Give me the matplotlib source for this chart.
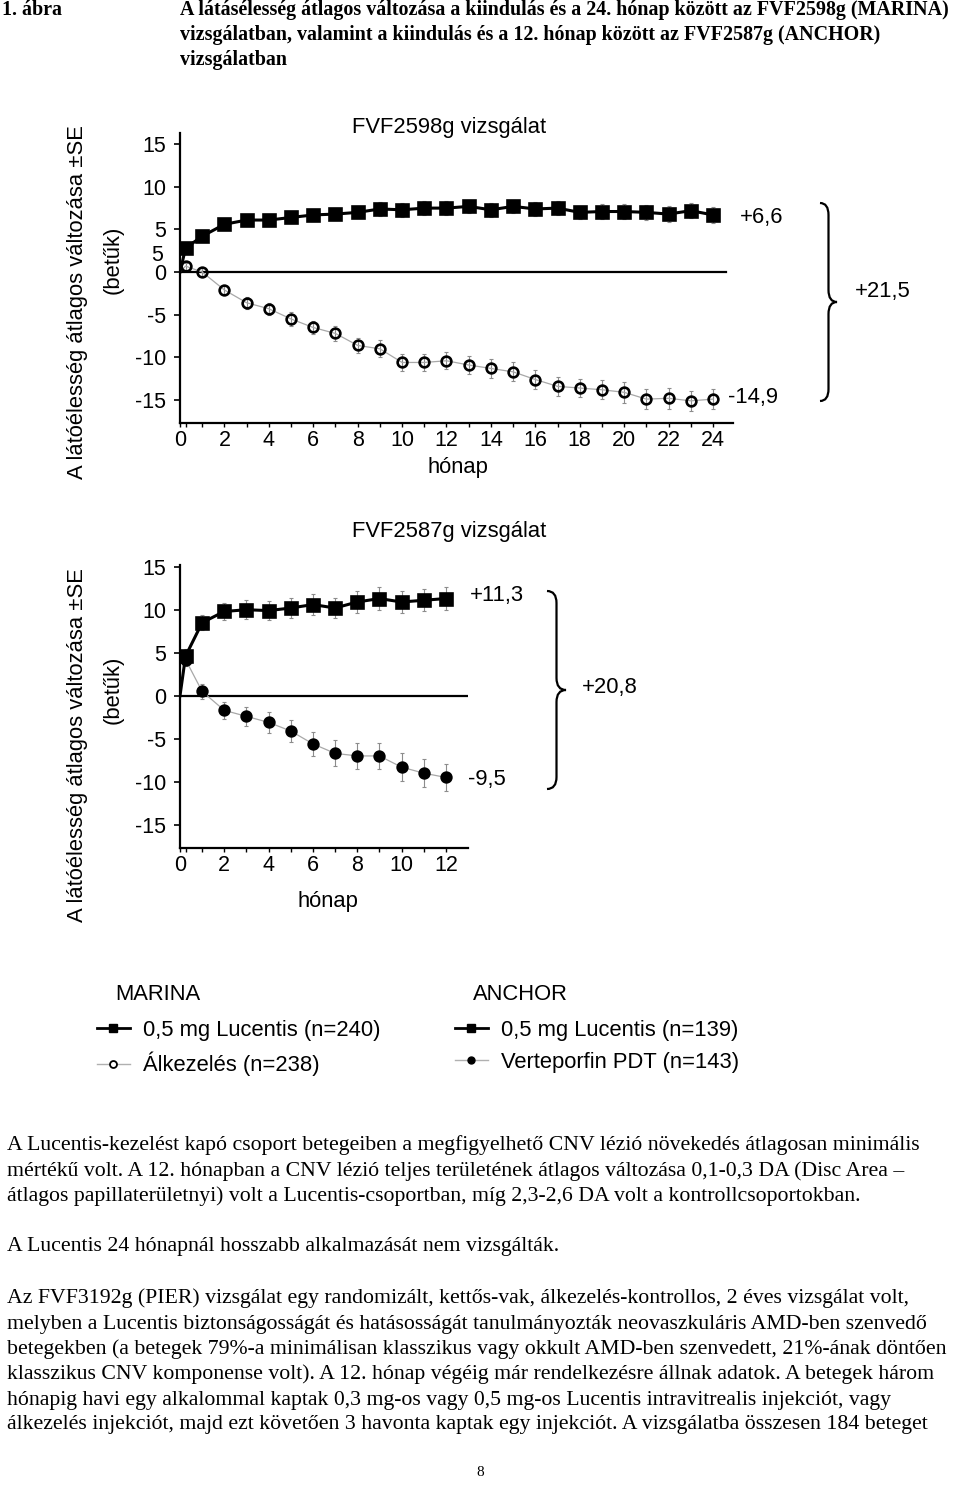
import numpy as np
import matplotlib.pyplot as plt
from matplotlib.path import Path
from matplotlib.patches import PathPatch
from matplotlib.lines import Line2D

plt.rcParams['font.family'] = ['Liberation Sans', 'DejaVu Sans']
plt.rcParams['axes.unicode_minus'] = False

# MARINA (FVF2598g) - atlagos valtozas, betuk
marina_months = [0, 0.25] + list(range(1, 25))
marina_lucentis = [0, 2.8, 4.2, 5.6, 6.1, 6.1, 6.4, 6.7, 6.8, 7.0, 7.4, 7.3, 7.5, 7.5,
                   7.7, 7.3, 7.7, 7.4, 7.5, 7.0, 7.1, 7.1, 7.0, 6.8, 7.2, 6.7]
marina_lucentis_se = [0, 0.5, 0.6, 0.6, 0.6, 0.6, 0.7, 0.7, 0.7, 0.7, 0.8, 0.8, 0.8, 0.8,
                      0.8, 0.8, 0.8, 0.8, 0.8, 0.8, 0.9, 0.9, 0.9, 0.9, 0.9, 0.9]
marina_sham = [0, 0.7, 0.0, -2.1, -3.6, -4.3, -5.5, -6.5, -7.2, -8.6, -9.0, -10.6, -10.6, -10.4,
               -10.9, -11.3, -11.7, -12.6, -13.4, -13.6, -13.8, -14.1, -14.9, -14.8, -15.1, -14.9]
marina_sham_se = [0, 0.4, 0.5, 0.6, 0.7, 0.7, 0.8, 0.8, 0.9, 0.9, 1.0, 1.0, 1.0, 1.0,
                  1.0, 1.1, 1.1, 1.1, 1.1, 1.1, 1.1, 1.2, 1.2, 1.2, 1.2, 1.2]

# ANCHOR (FVF2587g)
anchor_months = [0, 0.25] + list(range(1, 13))
anchor_lucentis = [0, 4.6, 8.5, 9.8, 10.0, 9.9, 10.2, 10.6, 10.2, 10.9, 11.3, 10.9, 11.1, 11.3]
anchor_lucentis_se = [0, 0.8, 0.9, 1.0, 1.1, 1.1, 1.2, 1.2, 1.2, 1.3, 1.3, 1.3, 1.3, 1.3]
anchor_pdt = [0, 4.2, 0.5, -1.7, -2.4, -3.1, -4.1, -5.6, -6.7, -7.0, -7.0, -8.3, -9.0, -9.5]
anchor_pdt_se = [0, 0.8, 0.9, 1.0, 1.1, 1.2, 1.3, 1.4, 1.5, 1.5, 1.5, 1.6, 1.6, 1.6]

yticks = [15, 10, 5, 0, -5, -10, -15]

fig = plt.figure(figsize=(9.6, 14.9), dpi=100)

def setup(ax, xmax, ymin, ymax, xlabels, zero_end):
    ax.set_xlim(0, xmax)
    ax.set_ylim(ymin, ymax)
    for s in ['top', 'right']:
        ax.spines[s].set_visible(False)
    for s in ['left', 'bottom']:
        ax.spines[s].set_linewidth(1.6)
    ax.set_yticks(yticks)
    ax.set_xticks(xlabels)
    ax.set_xticks([m for m in range(1, int(xlabels[-1]) + 1, 2)] + [0.25], minor=True)
    ax.tick_params(axis='y', direction='out', length=4, width=1.2, labelsize=15.5, pad=6)
    ax.tick_params(axis='x', which='both', direction='out', length=3, width=1.0,
                   labelsize=15.5, pad=2)
    ax.axhline(0, xmax=zero_end, color='black', lw=1.6)

def series(ax, x, y, se, fmt, lw, lc, ms, mfc):
    ax.errorbar(x, y, yerr=se, fmt='none', ecolor='#8c8c8c', elinewidth=0.8,
                capsize=1.5, capthick=0.8, errorevery=(1, 1), zorder=2)
    ax.plot(x, y, color=lc, lw=lw, zorder=3)
    ax.plot(x[1:], y[1:], linestyle='none', marker=fmt, ms=ms, mfc=mfc,
            mec='black', mew=1.9, zorder=4)

# felso abra: MARINA
ax1 = fig.add_axes([0.1875, 0.7161, 0.5760, 0.1946])
setup(ax1, 24.9, -17.7, 16.3, list(range(0, 25, 2)), 0.988)
series(ax1, marina_months, marina_sham, marina_sham_se, 'o', 0.9, '#a8a8a8', 7, 'none')
series(ax1, marina_months, marina_lucentis, marina_lucentis_se, 's', 2.2, 'black', 8.5, 'black')
ax1.text(-0.75, 2, '5', ha='right', va='center', fontsize=15.5)

# also abra: ANCHOR
ax2 = fig.add_axes([0.1875, 0.4309, 0.3000, 0.1899])
setup(ax2, 13.0, -17.7, 15.2, list(range(0, 13, 2)), 1.0)
series(ax2, anchor_months, anchor_pdt, anchor_pdt_se, 'o', 0.9, '#a8a8a8', 7, 'black')
series(ax2, anchor_months, anchor_lucentis, anchor_lucentis_se, 's', 2.2, 'black', 8.5, 'black')

# overlay in pixel coordinates for texts and braces
ov = fig.add_axes([0, 0, 1, 1])
ov.set_xlim(0, 960)
ov.set_ylim(1490, 0)
ov.axis('off')
ov.patch.set_alpha(0)

def brace(x, yt, yb, ym, w, r):
    xm = x + w / 2
    verts = [(x, yt), (xm, yt), (xm, yt + r), (xm, ym - r), (xm, ym), (x + w, ym),
             (xm, ym), (xm, ym + r), (xm, yb - r), (xm, yb), (x, yb)]
    codes = [Path.MOVETO, Path.CURVE3, Path.CURVE3, Path.LINETO, Path.CURVE3, Path.CURVE3,
             Path.CURVE3, Path.CURVE3, Path.LINETO, Path.CURVE3, Path.CURVE3]
    ov.add_patch(PathPatch(Path(verts, codes), fill=False, lw=1.6, color='black'))

brace(820, 203, 401, 302, 17, 12)
brace(547, 591, 789, 690, 19, 12)

fs = 15.8
ov.text(449, 128, 'FVF2598g vizsgálat', ha='center', va='center', fontsize=fs)
ov.text(458, 467, 'hónap', ha='center', va='center', fontsize=fs)
ov.text(740, 217, '+6,6', ha='left', va='center', fontsize=fs)
ov.text(728, 397, '-14,9', ha='left', va='center', fontsize=fs)
ov.text(855, 291, '+21,5', ha='left', va='center', fontsize=fs)
ov.text(78, 302, 'A látóélesség átlagos változása ±SE', rotation=90, ha='center', va='center', fontsize=fs)
ov.text(113, 260, '(betűk)', rotation=90, ha='center', va='center', fontsize=fs)

ov.text(449, 532, 'FVF2587g vizsgálat', ha='center', va='center', fontsize=fs)
ov.text(328, 902, 'hónap', ha='center', va='center', fontsize=fs)
ov.text(470, 595, '+11,3', ha='left', va='center', fontsize=fs)
ov.text(468, 780, '-9,5', ha='left', va='center', fontsize=fs)
ov.text(582, 688, '+20,8', ha='left', va='center', fontsize=fs)
ov.text(78, 745, 'A látóélesség átlagos változása ±SE', rotation=90, ha='center', va='center', fontsize=fs)
ov.text(113, 690, '(betűk)', rotation=90, ha='center', va='center', fontsize=fs)

# legends
ov.text(115, 995, 'MARINA', ha='left', va='center', fontsize=fs)
ov.text(473, 995, 'ANCHOR', ha='left', va='center', fontsize=fs)
h_luc = Line2D([], [], color='black', lw=2, marker='s', ms=6, mfc='black', mec='black')
h_sham = Line2D([], [], color='#b0b0b0', lw=1, marker='o', ms=5, mfc='white', mec='black', mew=1.3)
h_pdt = Line2D([], [], color='#b0b0b0', lw=1, marker='o', ms=5, mfc='black', mec='black')
leg_kw = dict(loc='upper left', frameon=False, fontsize=fs, handlelength=1.5,
              handletextpad=0.6, labelspacing=0.5, borderpad=0, borderaxespad=0)
fig.legend([h_luc, h_sham], ['0,5 mg Lucentis (n=240)', 'Álkezelés (n=238)'],
           bbox_to_anchor=(97 / 960, 1 - 1020 / 1490), **leg_kw)
fig.legend([h_luc, h_pdt], ['0,5 mg Lucentis (n=139)', 'Verteporfin PDT (n=143)'],
           bbox_to_anchor=(455 / 960, 1 - 1020 / 1490), **leg_kw)

# figure caption
serif = ['Liberation Serif', 'DejaVu Serif']
ov.text(2, 10, '1. ábra', ha='left', va='center', fontsize=14.4, fontweight='bold', family=serif)
title_lines = ['A látásélesség átlagos változása a kiindulás és a 24. hónap között az FVF2598g (MARINA)',
               'vizsgálatban, valamint a kiindulás és a 12. hónap között az FVF2587g (ANCHOR)',
               'vizsgálatban']
for i, line in enumerate(title_lines):
    ov.text(180, 10 + 25 * i, line, ha='left', va='center', fontsize=14.4, fontweight='bold', family=serif)

body = [
    (1145, 'A Lucentis-kezelést kapó csoport betegeiben a megfigyelhető CNV lézió növekedés átlagosan minimális'),
    (1171, 'mértékű volt. A 12. hónapban a CNV lézió teljes területének átlagos változása 0,1-0,3 DA (Disc Area –'),
    (1196, 'átlagos papillaterületnyi) volt a Lucentis-csoportban, míg 2,3-2,6 DA volt a kontrollcsoportokban.'),
    (1247, 'A Lucentis 24 hónapnál hosszabb alkalmazását nem vizsgálták.'),
    (1298, 'Az FVF3192g (PIER) vizsgálat egy randomizált, kettős-vak, álkezelés-kontrollos, 2 éves vizsgálat volt,'),
    (1324, 'melyben a Lucentis biztonságosságát és hatásosságát tanulmányozták neovaszkuláris AMD-ben szenvedő'),
    (1349, 'betegekben (a betegek 79%-a minimálisan klasszikus vagy okkult AMD-ben szenvedett, 21%-ának döntően'),
    (1374, 'klasszikus CNV komponense volt). A 12. hónap végéig már rendelkezésre állnak adatok. A betegek három'),
    (1400, 'hónapig havi egy alkalommal kaptak 0,3 mg-os vagy 0,5 mg-os Lucentis intravitrealis injekciót, vagy'),
    (1425, 'álkezelés injekciót, majd ezt követően 3 havonta kaptak egy injekciót. A vizsgálatba összesen 184 beteget'),
]
for y, line in body:
    ov.text(7, y, line, ha='left', va='center', fontsize=15.7, family=serif)
ov.text(480, 1472, '8', ha='center', va='center', fontsize=11, family=serif)

fig.savefig('out.png', dpi=100)
